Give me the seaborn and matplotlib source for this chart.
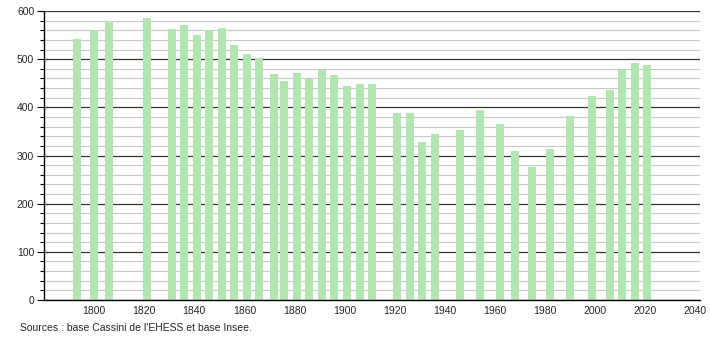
import matplotlib
matplotlib.use("Agg")
import matplotlib.pyplot as plt
import seaborn as sns
import pandas as pd
from matplotlib.ticker import MultipleLocator

years = [1793, 1800, 1806, 1821, 1831, 1836, 1841, 1846, 1851, 1856, 1861, 1866,
         1872, 1876, 1881, 1886, 1891, 1896, 1901, 1906, 1911, 1921, 1926, 1931,
         1936, 1946, 1954, 1962, 1968, 1975, 1982, 1990, 1999, 2006, 2011, 2016, 2021]
population = [541, 559, 580, 585, 562, 571, 550, 560, 565, 529, 511, 502,
              469, 455, 472, 459, 477, 467, 444, 448, 448, 388, 388, 328,
              345, 353, 394, 365, 309, 276, 313, 382, 423, 436, 477, 492, 488]
x_ticks = [1800, 1820, 1840, 1860, 1880, 1900, 1920, 1940, 1960, 1980, 2000, 2020, 2040]
y_ticks = [0, 100, 200, 300, 400, 500, 600]
source_text = "Sources : base Cassini de l'EHESS et base Insee."

sns.set_style("white")
plt.rcParams['font.family'] = ['Liberation Sans', 'DejaVu Sans']

df = pd.DataFrame({"year": years, "pop": population})

fig = plt.figure(figsize=(7.1, 3.4), dpi=100)
ax = fig.add_axes([0.062, 0.1176, 0.924, 0.85])

ax.yaxis.set_minor_locator(MultipleLocator(20))
ax.set_yticks(y_ticks)
ax.grid(which="minor", axis="y", color="#c8c8c8", linewidth=0.8, zorder=0)
ax.grid(which="major", axis="y", color="#333333", linewidth=0.9, zorder=0)
ax.set_axisbelow(True)

sns.barplot(data=df, x="year", y="pop", native_scale=True, width=0.8,
            color="#b2e5b2", saturation=1, edgecolor="none", ax=ax, zorder=2)

ax.set_xlim(1780, 2042)
ax.set_ylim(0, 600)
ax.set_xticks(x_ticks)
ax.set_xticklabels([str(t) for t in x_ticks])
ax.set_xlabel("")
ax.set_ylabel("")
for s in ["top", "right"]:
    ax.spines[s].set_visible(False)
ax.spines["left"].set_color("black")
ax.spines["bottom"].set_color("black")
ax.spines["left"].set_linewidth(1)
ax.spines["bottom"].set_linewidth(1)
ax.tick_params(axis="y", which="major", length=5, width=0.8, color="black",
               labelsize=7.5, pad=2, left=True)
ax.tick_params(axis="y", which="minor", length=3, width=0.8, color="black", left=True)
ax.tick_params(axis="x", which="both", length=0, labelsize=7.5, pad=4)

fig.text(20 / 710, 1 - 328 / 340, source_text, fontsize=7.5, ha="left", va="center")

fig.savefig("out.png", dpi=100)
